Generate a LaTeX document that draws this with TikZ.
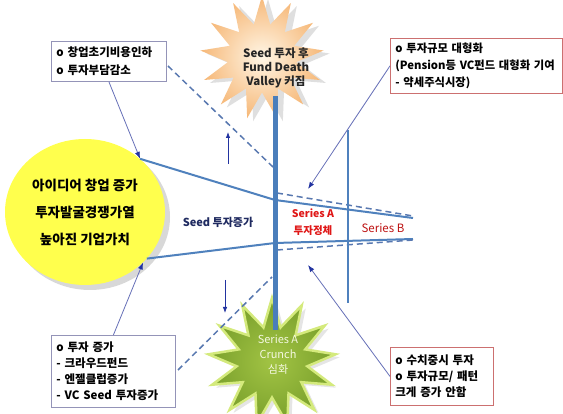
\documentclass[tikz,border=0pt]{standalone}
\usepackage{fontspec}
\setmainfont{Noto Sans CJK KR}
\usetikzlibrary{shapes.geometric,shadows,arrows.meta}
\definecolor{barblue}{HTML}{4A7EBB}
\definecolor{lineblue}{HTML}{4F81BD}
\definecolor{dashblue}{HTML}{5878B0}
\definecolor{connblue}{HTML}{6670B8}
\definecolor{tipblue}{HTML}{2233A0}
\definecolor{ellyellow}{HTML}{FFFF4D}
\definecolor{boxgray}{HTML}{9494B8}
\definecolor{boxred}{HTML}{CC7070}
\definecolor{textred}{HTML}{E01818}
\definecolor{navy}{HTML}{1F2A60}
\definecolor{peachin}{HTML}{FFF6E6}
\definecolor{peachout}{HTML}{F6B878}
\definecolor{greenin}{HTML}{A2C444}
\definecolor{greenout}{HTML}{7AA02C}
\definecolor{greenedge}{HTML}{D4EA7C}
\begin{document}
\begin{tikzpicture}[x=1pt,y=-1pt,
  infobox/.style={draw, line width=0.8pt, fill=white, anchor=north west, align=left,
    inner xsep=5pt, inner ysep=2pt},
  funnel/.style={lineblue, line width=2pt},
  dashln/.style={dashblue, line width=1.5pt, dash pattern=on 6pt off 4pt},
  conn/.style={connblue, line width=0.8pt, -{Latex[length=7pt,width=5pt,color=tipblue]}},
  smallarrow/.style={tipblue, line width=0.8pt, -{Latex[length=6pt,width=4.5pt]}},
  startext/.style={align=center, inner sep=0pt}]
\useasboundingbox (0,0) rectangle (563,414);
\fill[white] (0,0) rectangle (563,414);

% stars
\node[star, star points=13, star point ratio=1.8, minimum size=124pt, inner sep=0pt,
  shade, inner color=peachin, outer color=peachout,
  drop shadow={opacity=0.25, shadow xshift=6pt, shadow yshift=-3pt}] (topstar) at (262,58) {};
\node[star, star points=13, star point ratio=1.8, minimum size=128pt, inner sep=0pt,
  shade, inner color=greenin, outer color=greenout, draw=greenedge, line width=2.5pt,
  drop shadow={opacity=0.2, shadow xshift=4pt, shadow yshift=-3pt}] (botstar) at (272,362) {};

% ellipse
\node[ellipse, minimum width=160pt, minimum height=146pt, fill=ellyellow,
  drop shadow={opacity=0.3, shadow xshift=5pt, shadow yshift=-5pt},
  align=center, font=\bfseries\fontsize{13.5}{27}\selectfont] (ell) at (85,212)
  {아이디어 창업 증가\\투자발굴경쟁가열\\높아진 기업가치};

% coordinates
\coordinate (ua) at (275,200);
\coordinate (ub) at (413,218);
\coordinate (la) at (275,243);
\coordinate (lb) at (413,239);
\coordinate (d1a) at (168,66);
\coordinate (d1b) at (273,167);
\coordinate (d2a) at (277,193);
\coordinate (d2b) at (413,216);
\coordinate (d3a) at (178,370);
\coordinate (d3b) at (272,277);
\coordinate (d4a) at (277,250);
\coordinate (d4b) at (413,240);
\coordinate (vt) at (348,130);
\coordinate (vb) at (348,303);
\coordinate (bt) at (275,96);
\coordinate (bb) at (275,330);
\coordinate (trtip) at (308,189);
\coordinate (brtip) at (308,265);
\coordinate (a1s) at (228,164);
\coordinate (a1e) at (228,132);
\coordinate (a2s) at (225,280);
\coordinate (a2e) at (225,313);

% funnel lines
\draw[funnel] (ell.44) -- (ua) -- (ub);
\draw[funnel] (ell.-37) -- (la) -- (lb);
\draw[dashln] (d1a) -- (d1b);
\draw[dashln] (d2a) -- (d2b);
\draw[dashln] (d3a) -- (d3b);
\draw[dashln] (d4a) -- (d4b);
\draw[lineblue, line width=1.3pt] (vt) -- (vb);
\draw[barblue, line width=5pt] (bt) -- (bb);

% boxes
\node[infobox, draw=boxgray, minimum width=115pt, minimum height=40pt, text width=105pt,
  font=\bfseries\fontsize{11.5}{18}\selectfont] (tl) at (51,41)
  {o 창업초기비용인하\\o 투자부담감소};
\node[infobox, draw=boxred, minimum width=172pt, minimum height=55pt, text width=162pt,
  font=\bfseries\fontsize{11.3}{17}\selectfont] (tr) at (390,38)
  {o 투자규모 대형화\\(Pension등 VC펀드 대형화 기여\\- 약세주식시장)};
\node[infobox, draw=boxgray, minimum width=124pt, minimum height=72pt, text width=114pt,
  font=\bfseries\fontsize{11.5}{16}\selectfont] (bl) at (51,335)
  {o 투자 증가\\- 크라우드펀드\\- 엔젤클럽증가\\- VC Seed 투자증가};
\node[infobox, draw=boxred, minimum width=103pt, minimum height=58pt, text width=93pt,
  font=\bfseries\fontsize{11.5}{16}\selectfont] (br) at (390,347)
  {o 수치중시 투자\\o 투자규모/ 패턴\\크게 증가 안함};

% connectors
\draw[conn] (tl.south) -- (ell.44);
\draw[conn] (bl.north) -- (ell.-41);
\draw[conn] (tr.west) -- (trtip);
\draw[conn] (br.west) -- (brtip);
\draw[smallarrow] (a1s) -- (a1e);
\draw[smallarrow] (a2s) -- (a2e);

% labels
\node[startext, font=\bfseries\fontsize{11.5}{14}\selectfont, text=black!85] (toptext) at (276,68)
  {Seed 투자 후\\Fund Death\\Valley 커짐};
\node[startext, font=\fontsize{11}{15}\selectfont, text={rgb,255:red,244;green,248;blue,224}] (bottext) at (278,355)
  {Series A\\Crunch\\심화};
\node[font=\bfseries\fontsize{11}{13}\selectfont, text=navy] (seedinc) at (218,222) {Seed 투자증가};
\node[align=center, font=\bfseries\fontsize{10.5}{17}\selectfont, text=textred] (sera) at (313,222)
  {Series A\\투자정체};
\node[font=\fontsize{11.5}{13}\selectfont, text=textred!85!black] (serb) at (383,228) {Series B};
\end{tikzpicture}
\end{document}
